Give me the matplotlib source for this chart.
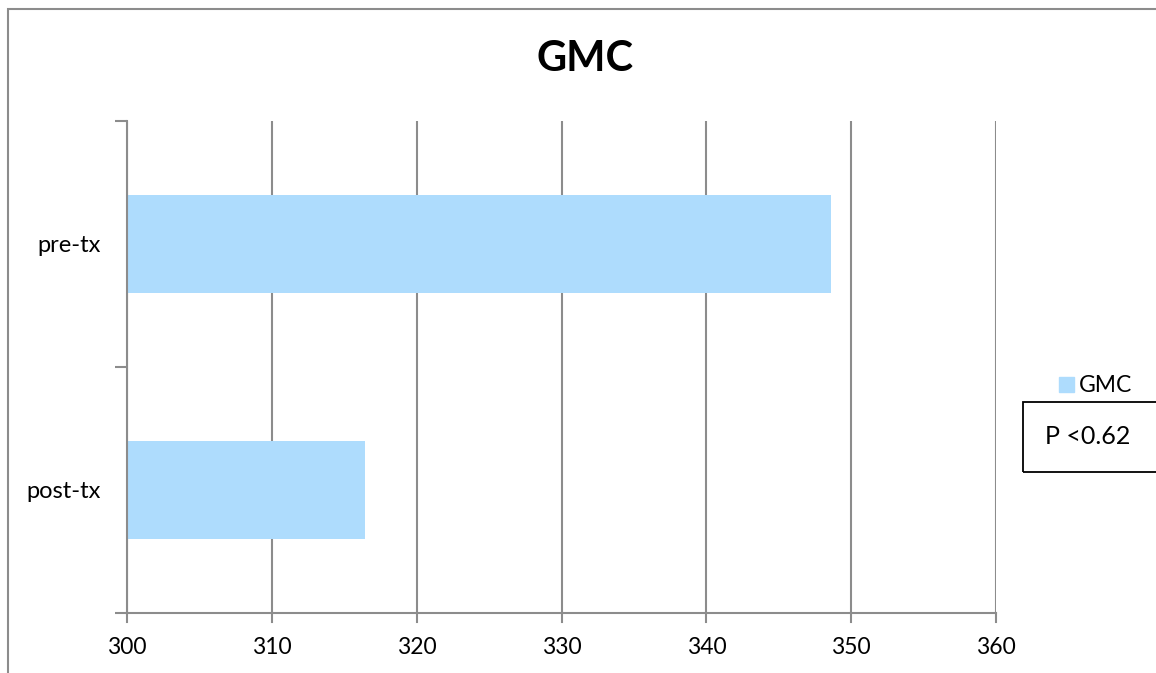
import matplotlib.pyplot as plt
from matplotlib.patches import Rectangle

# GMC before / after treatment
categories = ["post-tx", "pre-tx"]
gmc_values = [316.4, 348.6]
x_ticks = [300, 310, 320, 330, 340, 350, 360]
series_name = "GMC"
p_note = "P <0.62"

BAR_COLOR = "#aedcfd"
GRID_COLOR = "#8c8c8c"

plt.rcParams["font.family"] = ["Lato", "DejaVu Sans"]

W, H = 1156, 673
fig = plt.figure(figsize=(W / 100, H / 100), dpi=100)

# outer chart frame (runs off the right/bottom edges)
fig.patches.append(Rectangle((8 / W, -0.1), 1.2, 1 - 9 / H + 0.1,
                             transform=fig.transFigure, fill=False,
                             edgecolor=GRID_COLOR, linewidth=1.5))

ax = fig.add_axes([127 / W, 1 - 613 / H, (996 - 127) / W, (613 - 121) / H])
ax.barh(range(len(categories)), gmc_values, height=0.4, left=0,
        color=BAR_COLOR, zorder=2)
ax.set_xlim(x_ticks[0], x_ticks[-1])
ax.set_ylim(-0.5, len(categories) - 0.5)

ax.set_xticks(x_ticks)
ax.set_xticklabels([str(t) for t in x_ticks], fontsize=16.5)
ax.set_yticks(range(len(categories)))
ax.set_yticklabels(categories, fontsize=17)
ax.tick_params(axis="y", length=0, pad=19)
ax.tick_params(axis="x", length=0, pad=17)

# category separators on the value axis
ax.set_yticks([-0.5, 0.5, 1.5], minor=True)
ax.tick_params(axis="y", which="minor", length=9, width=1.5, color=GRID_COLOR)

ax.grid(axis="x", color=GRID_COLOR, linewidth=1.5, zorder=0)
for t in x_ticks:
    ax.plot([t, t], [-0.5, -0.5 - 9 / 246], color=GRID_COLOR, lw=1.5,
            clip_on=False, zorder=0)

for side in ("top", "right"):
    ax.spines[side].set_visible(False)
for side in ("left", "bottom"):
    ax.spines[side].set_color(GRID_COLOR)
    ax.spines[side].set_linewidth(1.5)

fig.text(585 / W, 1 - 59 / H, "GMC", ha="center", va="center",
         fontsize=30, fontweight="bold")

# legend entry
fig.patches.append(Rectangle((1059 / W, 1 - 392 / H), 15 / W, 15 / H,
                             transform=fig.transFigure, color=BAR_COLOR))
fig.text(1079 / W, 1 - 385 / H, series_name, ha="left", va="center",
         fontsize=16.5)

# p-value box
fig.patches.append(Rectangle((1023 / W, 1 - 472 / H), 140 / W, 70 / H,
                             transform=fig.transFigure, fill=False,
                             edgecolor="black", linewidth=1.3))
fig.text(1045 / W, 1 - 437 / H, p_note, ha="left", va="center", fontsize=18)

fig.savefig("out.png", dpi=100)
